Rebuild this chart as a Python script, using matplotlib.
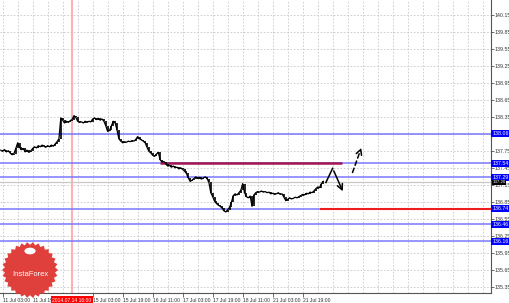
import matplotlib.pyplot as plt
import matplotlib.transforms as mtransforms
from matplotlib.patches import Polygon, Circle
import numpy as np

# H1 closes, first bar = 11 Jul 02:00
closes = [
    137.77, 137.75, 137.78, 137.74, 137.76, 137.72, 137.69, 137.71, 137.80, 137.90,
    137.82, 137.78, 137.80, 137.74, 137.77, 137.73, 137.76, 137.80, 137.83, 137.81,
    137.85, 137.83, 137.86, 137.84, 137.82, 137.85, 137.83, 137.86, 137.84, 137.88,
    137.92, 137.97, 138.34, 138.30, 138.25, 138.28, 138.26, 138.29, 138.31, 138.38,
    138.35, 138.28, 138.26, 138.27, 138.25, 138.28, 138.26, 138.28, 138.27, 138.32,
    138.34, 138.31, 138.33, 138.30, 138.32, 138.28, 138.20, 138.10, 138.12, 138.20,
    138.28, 138.25, 138.12, 137.97, 137.93, 137.90, 137.92, 137.91, 137.93, 137.92,
    137.94, 137.93, 137.96, 138.01, 137.97, 137.95, 137.93, 137.90, 137.82, 137.75,
    137.72, 137.68, 137.66, 137.70, 137.73, 137.60, 137.56, 137.57, 137.53, 137.49,
    137.50, 137.47, 137.49, 137.46, 137.47, 137.44, 137.46, 137.43, 137.40, 137.36,
    137.28, 137.22, 137.24, 137.27, 137.30, 137.27, 137.29, 137.26, 137.28, 137.30,
    137.27, 137.20, 137.02, 136.95, 136.87, 136.83, 136.80, 136.78, 136.75, 136.70,
    136.68, 136.72, 136.76, 136.85, 136.97, 137.00, 136.98, 137.02, 137.06, 137.18,
    137.02, 136.95, 136.93, 136.96, 136.78, 136.98, 137.02, 137.04, 137.03, 137.05,
    137.03, 137.04, 137.02, 137.03, 137.00, 137.01, 136.99, 137.00, 137.02, 136.99,
    137.00, 136.94, 136.88, 136.90, 136.93, 136.91, 136.92, 136.94, 136.93, 136.95,
    136.97, 136.99, 136.98, 137.01, 137.00, 137.03, 137.02, 137.05, 137.09, 137.12,
    137.11, 137.18, 137.22,
]

price_ticks = [140.15, 139.85, 139.55, 139.25, 138.95, 138.65, 138.35, 138.05,
               137.75, 137.45, 137.15, 136.85, 136.55, 136.25, 135.95, 135.65, 135.35]
hidden_tick = 138.05  # covered by the 138.06 level label
levels = [138.06, 137.54, 137.29, 136.74, 136.46, 136.16]
bid = 137.20

time_pos = [1, 17, 49, 65, 81, 97, 113, 129, 145, 161]
time_labels = ["11 Jul 03:00", "11 Jul 19:00", "15 Jul 03:00", "15 Jul 19:00",
               "16 Jul 11:00", "17 Jul 03:00", "17 Jul 19:00", "18 Jul 11:00",
               "21 Jul 03:00", "21 Jul 19:00"]
cursor_bar = 38
cursor_label = "2014.07.14 16:00"

resist_start, resist_end, resist_level = 85, 182, 137.54
support_start, support_level = 170, 136.74
wave_x = [173.4, 177.0, 183.0]
wave_y = [137.20, 137.45, 137.00]
alt_x = [187.1, 192.8]
alt_y = [137.33, 137.86]

FONT = "Liberation Sans"

fig = plt.figure(figsize=(5.1, 3.03), dpi=100)
ax = fig.add_axes([0, 10 / 303, 490.7 / 510, 293 / 303])
ax.set_xlim(-0.43, 261.3)
ax.set_ylim(135.25, 140.42)

# grid
for gx in np.arange(1, 262, 8):
    ax.axvline(gx, color="#c8c8c8", lw=0.6, ls=(0, (2, 2)), zorder=0)
for p in price_ticks:
    ax.axhline(p, color="#c8c8c8", lw=0.6, ls=(0, (2, 2)), zorder=0)

ax.axvline(cursor_bar, color="#ffb0b0", lw=1.5, zorder=1)

for lv in levels:
    ax.axhline(lv, color="#7878ff", lw=1.1, zorder=2)
ax.axhline(bid, color="#c8c8c8", lw=0.9, zorder=2)

ax.hlines(resist_level, resist_start, resist_end, color="#a3164f", lw=1.8, zorder=3)
ax.hlines(support_level, support_start, 261.3, color="#ee1c1c", lw=1.5, zorder=3)

# price bars
xs = np.arange(len(closes))
opens = [closes[0]] + closes[:-1]
ax.vlines(xs, np.minimum(opens, closes), np.maximum(opens, closes), color="black", lw=1.2, zorder=4)
ax.plot(xs, closes, color="black", lw=0.9, zorder=4)

# forecast arrows
ax.plot(wave_x[:2], wave_y[:2], color="black", lw=1.1, zorder=5)
ax.annotate("", xy=(wave_x[2], wave_y[2]), xytext=(wave_x[1], wave_y[1]),
            arrowprops=dict(arrowstyle="->", color="black", lw=1.1), zorder=5)
ax.annotate("", xy=(alt_x[1], alt_y[1]), xytext=(alt_x[0], alt_y[0]),
            arrowprops=dict(arrowstyle="->", color="black", lw=1.1, ls=(0, (3, 2))), zorder=5)

# axes styling
for s in ["left", "top"]:
    ax.spines[s].set_visible(False)
for s in ["right", "bottom"]:
    ax.spines[s].set_color("#555555")
    ax.spines[s].set_linewidth(0.8)

ax.yaxis.tick_right()
ax.set_yticks(price_ticks)
ax.set_yticklabels(["" if p == hidden_tick else f"{p:.2f}" for p in price_ticks],
                   fontsize=3.8, family=FONT)
ax.tick_params(axis="y", length=2, width=0.5, pad=0.8, colors="#333333")
ax.set_xticks(time_pos)
ax.set_xticklabels(time_labels, fontsize=3.6, ha="left", family=FONT)
ax.tick_params(axis="x", length=3, width=0.5, pad=0.5, colors="#333333")

trans = mtransforms.blended_transform_factory(ax.transAxes, ax.transData)
for lv in levels:
    ax.text(1.003, lv, f"{lv:.2f}", transform=trans, fontsize=3.8, color="white",
            family=FONT, va="center", ha="left", clip_on=False, zorder=10,
            bbox=dict(boxstyle="square,pad=0.2", fc="#0000ff", ec="none"))
ax.text(1.003, bid + 0.005, f"{bid:.2f}", transform=trans, fontsize=3.2, color="white",
        family=FONT, va="center", ha="left", clip_on=False, zorder=10,
        bbox=dict(boxstyle="square,pad=0.1", fc="black", ec="none"))

transx = mtransforms.blended_transform_factory(ax.transData, ax.transAxes)
ax.text(cursor_bar, -0.016, cursor_label, transform=transx, fontsize=3.6, color="white",
        family=FONT, va="top", ha="center", clip_on=False, zorder=10,
        bbox=dict(boxstyle="square,pad=0.3", fc="#ff0000", ec="none"))

# logo badge
r = 28
ang = np.linspace(0, 2 * np.pi, 61)[:-1]
rad = np.where(np.arange(60) % 2 == 0, r, r * 0.9)
px = 30 + rad * np.cos(ang)
py = (303 - 270) + rad * np.sin(ang)
badge = Polygon(np.column_stack([px / 510, py / 303]), closed=True,
                transform=fig.transFigure, fc="#e0403c", ec="none", zorder=10)
fig.patches.append(badge)
fig.patches.append(Circle((30 / 510, 52 / 303), 0.011, transform=fig.transFigure,
                          fc="white", ec="none", zorder=11))
fig.text(30 / 510, 28 / 303, "InstaForex", color="white", fontsize=5.5, family=FONT,
         ha="center", va="center", zorder=12)

fig.savefig("out.png", dpi=100)
